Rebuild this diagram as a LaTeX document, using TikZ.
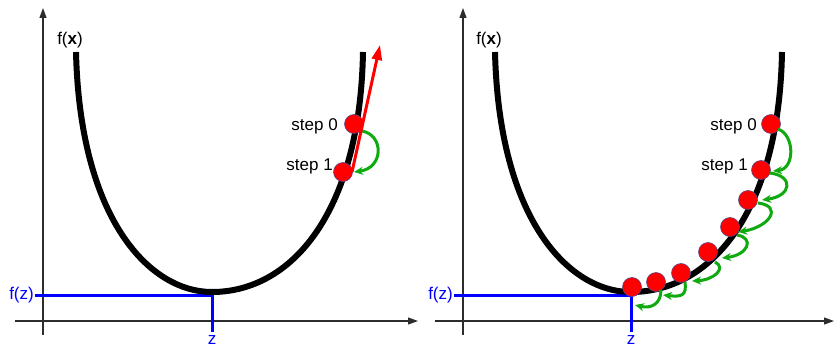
\documentclass[tikz,border=0pt]{standalone}
\usepackage{fontspec}
\setmainfont{Liberation Sans}
\usetikzlibrary{arrows.meta}
\definecolor{axisgray}{RGB}{45,45,45}
\definecolor{gdark}{RGB}{15,170,15}
\definecolor{dotline}{RGB}{90,70,140}
\tikzset{
  axisline/.style={draw=axisgray,line width=1.2pt,-{Triangle[length=10pt,width=7pt]}},
  bluel/.style={draw=blue,line width=3pt},
  curveline/.style={draw=black,line width=6pt},
  dot/.style={circle,fill=red,draw=dotline,line width=0.6pt,minimum size=19pt,inner sep=0pt},
  garrow/.style={draw=gdark,line width=3pt,-{Stealth[length=9pt,width=8pt]}},
  rarrow/.style={draw=red,line width=3pt,-{Triangle[length=15pt,width=10pt]}},
  lbl/.style={font=\fontsize{17}{20}\selectfont,inner sep=0pt},
}
\begin{document}
\begin{tikzpicture}[x=1pt,y=-1pt]
\useasboundingbox (0,0) rectangle (835,345);
% ---------- left panel ----------
\coordinate (LyB) at (43,335);
\coordinate (LyT) at (43,8);
\coordinate (LxL) at (15,321);
\coordinate (LxR) at (418,321);
\draw[axisline] (LyB) -- (LyT);
\draw[axisline] (LxL) -- (LxR);
\coordinate (Lfz) at (35,295);
\coordinate (Lc) at (212,295);
\coordinate (Lz) at (212,332);
\draw[bluel] (Lfz) -- (Lc) -- (Lz);
\node[lbl,text=blue,anchor=east] (Lfzl) at (34,295) {f(z)};
\node[lbl,text=blue,anchor=base] (Lzl) at (212,344) {z};
\node[lbl,anchor=base] (Lfx) at (70,45) {f(\textbf{x})};
\draw[curveline] (76,52) .. controls (80,220) and (150,292) .. (212,292)
                 .. controls (290,292) and (360,215) .. (363,52);
\node[dot] (a0) at (354,124) {};
\node[dot] (a1) at (343,172) {};
\node[lbl,anchor=base east] (La0) at (338,130) {step 0};
\node[lbl,anchor=base east] (La1) at (333,170) {step 1};
\draw[garrow] ([shift={(8,7)}]a0.center) .. controls +(22,4) and +(30,-4) .. ([shift={(11,0)}]a1.center);
\coordinate (rt) at (380,45);
\draw[rarrow] ([shift={(9,0)}]a1.center) -- (rt);
% ---------- right panel ----------
\coordinate (RyB) at (463,335);
\coordinate (RyT) at (463,8);
\coordinate (RxL) at (435,321);
\coordinate (RxR) at (834,321);
\draw[axisline] (RyB) -- (RyT);
\draw[axisline] (RxL) -- (RxR);
\coordinate (Rfz) at (454,295);
\coordinate (Rc) at (631,295);
\coordinate (Rz) at (631,332);
\draw[bluel] (Rfz) -- (Rc) -- (Rz);
\node[lbl,text=blue,anchor=east] (Rfzl) at (453,295) {f(z)};
\node[lbl,text=blue,anchor=base] (Rzl) at (631,344) {z};
\node[lbl,anchor=base] (Rfx) at (489,45) {f(\textbf{x})};
\begin{scope}[shift={(419,0)}]
\draw[curveline] (76,52) .. controls (80,220) and (150,292) .. (212,292)
                 .. controls (290,292) and (360,215) .. (363,52);
\end{scope}
\node[dot] (b0) at (771,124) {};
\node[dot] (b1) at (761,170) {};
\node[dot] (b2) at (748,200) {};
\node[dot] (b3) at (730,227) {};
\node[dot] (b4) at (708,252) {};
\node[dot] (b5) at (681,273) {};
\node[dot] (b6) at (656,282) {};
\node[dot] (b7) at (632,287) {};
\node[lbl,anchor=base east] (Rb0) at (757,130) {step 0};
\node[lbl,anchor=base east] (Rb1) at (748,170) {step 1};
\draw[garrow] ([shift={(7,5)}]b0.center) .. controls +(17,6) and +(22,-2) .. ([shift={(12,1)}]b1.center);
\draw[garrow] ([shift={(9,3)}]b1.center) .. controls +(24,3) and +(30,-4) .. ([shift={(14,0)}]b2.center);
\draw[garrow] ([shift={(10,3)}]b2.center) .. controls +(25,3) and +(32,-5) .. ([shift={(8,5)}]b3.center);
\draw[garrow] ([shift={(7,8)}]b3.center) .. controls +(18,3) and +(26,-3) .. ([shift={(14,6)}]b4.center);
\draw[garrow] ([shift={(7,10)}]b4.center) .. controls +(12,6) and +(22,-1) .. ([shift={(11,8)}]b5.center);
\draw[garrow] ([shift={(4,9)}]b5.center) .. controls +(2,14) and +(18,2) .. ([shift={(7,13)}]b6.center);
\draw[garrow] ([shift={(5,8)}]b6.center) .. controls +(0,14) and +(16,4) .. ([shift={(3,18)}]b7.center);
\end{tikzpicture}
\end{document}
